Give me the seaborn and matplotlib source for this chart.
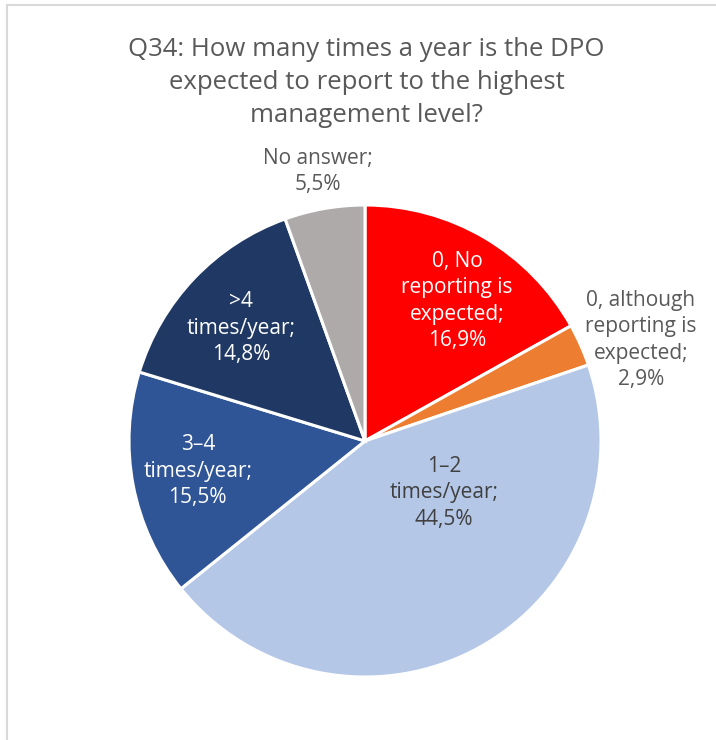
import numpy as np
import matplotlib.pyplot as plt
import seaborn as sns
from matplotlib.lines import Line2D

sns.set_theme(style="white")
plt.rcParams['font.family'] = ['Open Sans', 'DejaVu Sans']

# data
categories = ["0, No\nreporting is\nexpected;", "0, although\nreporting is\nexpected;",
              "1\u20132\ntimes/year;", "3\u20134\ntimes/year;", ">4\ntimes/year;", "No answer;"]
shares = [16.9, 2.9, 44.5, 15.5, 14.8, 5.5]
colors = ["#FF0000", "#ED7D31", "#B4C7E7", "#2F5597", "#203864", "#AEAAAA"]

# label placement (radius factor, angle shift in degrees, text colour)
label_r = [0.71, 1.245, 0.40, 0.72, 0.71, 1.16]
label_dang = [-2.9, -3.9, 28.0, -0.7, 1.3, 0.0]
label_col = ["white", "#595959", "#404040", "white", "white", "#595959"]

W, H = 716, 740
fig = plt.figure(figsize=(W / 100, H / 100), dpi=100)

cx, cy, R = 365, 441, 236
lim = 1.3
side = 2 * lim * R
ax = fig.add_axes([(cx - side / 2) / W, (H - cy - side / 2) / H, side / W, side / H])

wedges, _ = ax.pie(shares, colors=colors, startangle=90, counterclock=False,
                   wedgeprops=dict(edgecolor="white", linewidth=2.2))
ax.set_xlim(-lim, lim)
ax.set_ylim(-lim, lim)
ax.set_aspect("equal")
ax.axis("off")

for w, cat, val, r, da, c in zip(wedges, categories, shares, label_r, label_dang, label_col):
    ang = np.deg2rad((w.theta1 + w.theta2) / 2 + da)
    txt = cat + "\n" + f"{val:.1f}%".replace(".", ",")
    ax.text(r * np.cos(ang), r * np.sin(ang), txt, ha="center", va="center",
            color=c, fontsize=15, linespacing=1.33)

fig.text(0.512, 0.889, "Q34: How many times a year is the DPO\nexpected to report to the highest\nmanagement level?",
         ha="center", va="center", fontsize=18.5, color="#595959", linespacing=1.42)

# frame lines of the original chart box
fig.add_artist(Line2D([7 / W, 1], [1 - 5 / H, 1 - 5 / H], color="#D9D9D9", lw=1.5))
fig.add_artist(Line2D([7 / W, 7 / W], [0, 1 - 5 / H], color="#D9D9D9", lw=1.5))

fig.savefig("out.png", dpi=100)
